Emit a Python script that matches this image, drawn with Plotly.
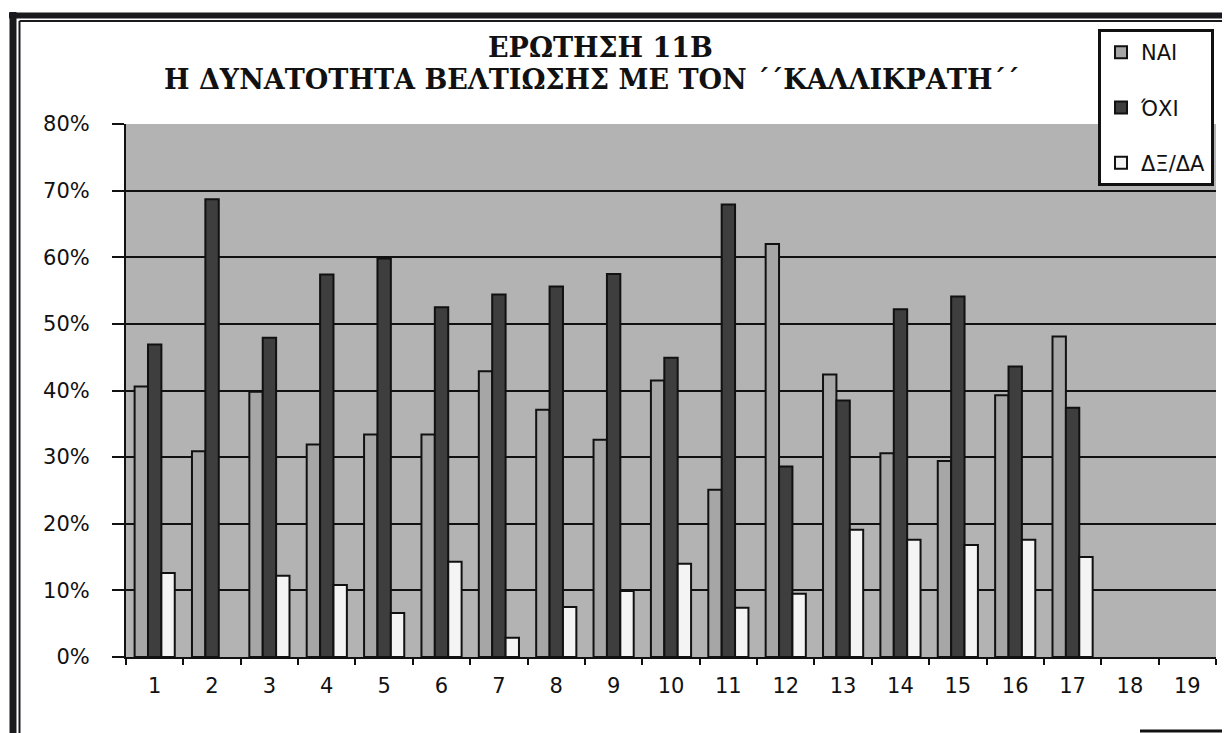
import plotly.graph_objects as go

categories = [str(i) for i in range(1, 20)]
nai = [0.406, 0.309, 0.398, 0.319, 0.334, 0.334, 0.429, 0.371, 0.326, 0.415, 0.251, 0.620, 0.424, 0.306, 0.294, 0.393, 0.481, None, None]
oxi = [0.469, 0.687, 0.479, 0.574, 0.598, 0.525, 0.544, 0.556, 0.575, 0.449, 0.679, 0.286, 0.385, 0.522, 0.541, 0.436, 0.374, None, None]
dx = [0.126, None, 0.122, 0.108, 0.066, 0.143, 0.029, 0.075, 0.099, 0.140, 0.074, 0.095, 0.191, 0.176, 0.168, 0.176, 0.150, None, None]
series_names = ["ΝΑΙ", "ΌΧΙ", "ΔΞ/ΔΑ"]
title_line1 = "ΕΡΩΤΗΣΗ 11Β"
title_line2 = "Η ΔΥΝΑΤΟΤΗΤΑ ΒΕΛΤΙΩΣΗΣ ΜΕ ΤΟΝ ΄΄ΚΑΛΛΙΚΡΑΤΗ΄΄"

# page body has an 8px margin; work in screen pixels and shift
OFF = 8
W, H = 1230 - OFF, 733 - OFF
L, R, T, B = 126, 1216, 124, 657  # screen pixels of plot area

def px(x):
    return (x - L) / (R - L)

def py(y):
    return (B - y) / (B - T)

colors = ["#a6a6a6", "#3e3e3e", "#f4f4f4"]
fig = go.Figure()
for i, (name, vals) in enumerate(zip(series_names, [nai, oxi, dx])):
    fig.add_trace(go.Bar(
        x=categories, y=vals, name=name, legendgroup=name,
        marker=dict(color=colors[i], line=dict(color="#111111", width=2)),
    ))

frame = "#1a1a1e"
shapes = [
    dict(type="line", xref="paper", yref="paper", x0=px(9), x1=px(1240), y0=py(15.5), y1=py(15.5),
         line=dict(color=frame, width=6)),
    dict(type="line", xref="paper", yref="paper", x0=px(13), x1=px(13), y0=py(12), y1=py(740),
         line=dict(color=frame, width=7)),
    dict(type="line", xref="paper", yref="paper", x0=px(19.5), x1=px(1240), y0=py(21), y1=py(21),
         line=dict(color=frame, width=2)),
    dict(type="line", xref="paper", yref="paper", x0=px(19.5), x1=px(19.5), y0=py(21), y1=py(740),
         line=dict(color=frame, width=2)),
    dict(type="line", xref="paper", yref="paper", x0=px(1140), x1=px(1240), y0=py(731), y1=py(731),
         line=dict(color="#111111", width=3)),
]

title_font = dict(family="DejaVu Serif", size=27, color="#111111")
annotations = [
    dict(text="<b>" + title_line1 + "</b>", xref="paper", yref="paper", x=px(600), y=py(48),
         showarrow=False, font=title_font, xanchor="center", yanchor="middle"),
    dict(text="<b>" + title_line2 + "</b>", xref="paper", yref="paper", x=px(591), y=py(79),
         showarrow=False, font=title_font, xanchor="center", yanchor="middle"),
]

fig.update_layout(
    width=W, height=H,
    margin=dict(l=L - OFF, r=W - (R - OFF), t=T - OFF, b=H - (B - OFF), pad=0),
    paper_bgcolor="white",
    plot_bgcolor="#b3b3b3",
    barmode="group",
    bargap=0.3,
    bargroupgap=0.0,
    font=dict(family="DejaVu Sans", size=21, color="#111111"),
    showlegend=True,
    legend=dict(
        x=px(1098), y=py(29), xanchor="left", yanchor="top",
        bgcolor="white", bordercolor="#111111", borderwidth=3,
        font=dict(family="DejaVu Sans", size=21, color="#111111"),
        tracegroupgap=25, itemwidth=30,
    ),
    shapes=shapes,
    annotations=annotations,
    xaxis=dict(
        type="category", tickson="boundaries", ticks="outside", ticklen=6, tickwidth=2,
        tickcolor="#111111", showline=True, linecolor="#111111", linewidth=2,
        showgrid=False, tickfont=dict(size=21), fixedrange=True, ticklabelstandoff=9,
    ),
    yaxis=dict(
        range=[0, 0.8], dtick=0.1, tickformat=".0%", ticks="outside", ticklen=12, tickwidth=2,
        tickcolor="#111111", showline=True, linecolor="#111111", linewidth=2,
        showgrid=True, gridcolor="#111111", gridwidth=2, zeroline=False,
        tickfont=dict(size=21), fixedrange=True, ticklabelstandoff=18,
    ),
)

fig.write_html("out.html")
